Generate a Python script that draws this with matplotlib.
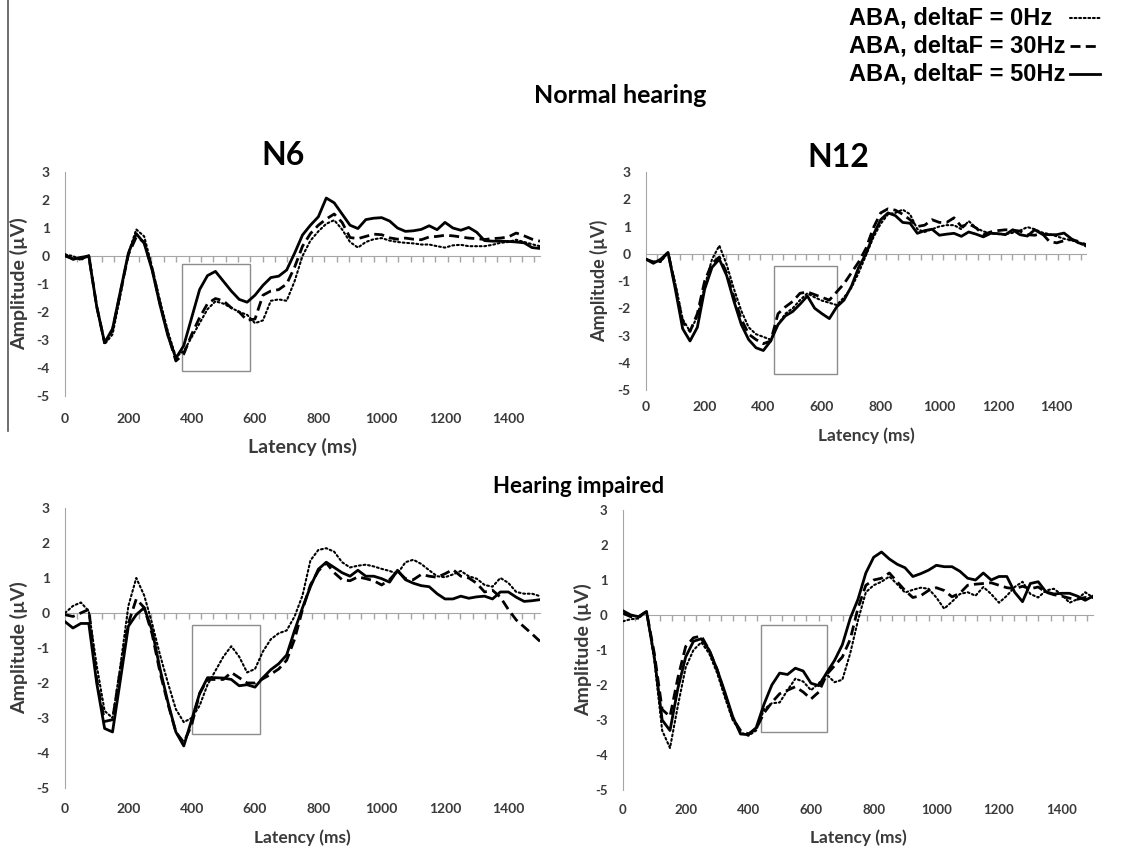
import matplotlib
matplotlib.use("Agg")
import matplotlib.pyplot as plt
from matplotlib.patches import Rectangle
from matplotlib.lines import Line2D
import numpy as np

plt.rcParams["axes.unicode_minus"] = False

# sampling grid of the read-off curves (ms)
latency_ms = np.arange(0, 1501, 25)

# ── Normal hearing, N6 ───────────────────────────────────────────────────────
nh_n6_0hz = [0.05, 0.0, -0.15, 0.05, -1.8, -3.15, -2.8, -1.4, 0.1, 0.95, 0.7, -0.4, -1.6,
             -2.7, -3.6, -3.4, -2.9, -2.4, -1.9, -1.62, -1.7, -1.85, -2.0, -2.1, -2.4, -2.3,
             -1.6, -1.55, -1.6, -0.9, 0.0, 0.55, 0.88, 1.15, 1.28, 0.95, 0.5, 0.3, 0.5, 0.6,
             0.64, 0.55, 0.5, 0.47, 0.45, 0.41, 0.41, 0.35, 0.3, 0.38, 0.4, 0.35, 0.35, 0.35,
             0.4, 0.47, 0.5, 0.58, 0.5, 0.42, 0.35]
nh_n6_30hz = [0.0, -0.1, -0.1, 0.0, -1.8, -3.1, -2.65, -1.3, 0.05, 0.68, 0.5, -0.45, -1.7,
              -2.8, -3.75, -3.5, -2.8, -2.2, -1.7, -1.52, -1.6, -1.85, -2.0, -2.3, -2.25, -1.4,
              -1.25, -1.2, -1.0, -0.4, 0.35, 0.8, 1.1, 1.32, 1.5, 1.2, 0.66, 0.62, 0.7, 0.78,
              0.76, 0.65, 0.6, 0.64, 0.6, 0.58, 0.68, 0.7, 0.74, 0.72, 0.68, 0.64, 0.62, 0.59,
              0.62, 0.64, 0.68, 0.82, 0.72, 0.6, 0.53]
nh_n6_50hz = [0.05, -0.12, -0.05, 0.0, -1.8, -3.1, -2.6, -1.25, 0.1, 0.8, 0.45, -0.5, -1.75,
              -2.85, -3.65, -3.2, -2.2, -1.2, -0.7, -0.55, -0.9, -1.25, -1.55, -1.65, -1.4, -1.05,
              -0.77, -0.72, -0.5, 0.1, 0.75, 1.1, 1.4, 2.07, 1.9, 1.5, 1.1, 0.98, 1.3, 1.35,
              1.37, 1.25, 1.0, 0.88, 0.9, 0.95, 1.08, 0.94, 1.2, 1.0, 0.92, 1.02, 0.85, 0.55,
              0.53, 0.53, 0.52, 0.5, 0.47, 0.3, 0.27]

# ── Normal hearing, N12 ──────────────────────────────────────────────────────
nh_n12_0hz = [-0.2, -0.3, -0.3, 0.05, -1.1, -2.4, -2.85, -2.3, -1.2, -0.2, 0.3, -0.4, -1.3,
              -2.1, -2.7, -2.95, -3.05, -3.15, -2.6, -2.2, -2.0, -1.7, -1.45, -1.6, -1.72, -1.8,
              -1.88, -1.6, -1.25, -0.7, -0.05, 0.6, 1.1, 1.45, 1.5, 1.62, 1.45, 0.9, 0.8, 0.9,
              1.0, 1.05, 1.05, 0.9, 1.2, 0.95, 0.82, 0.75, 0.72, 0.72, 0.77, 0.85, 0.98, 0.9,
              0.78, 0.72, 0.64, 0.55, 0.5, 0.4, 0.27]
nh_n12_30hz = [-0.2, -0.3, -0.25, 0.05, -1.2, -2.5, -2.85, -2.2, -1.0, -0.35, -0.12, -0.7,
               -1.6, -2.4, -2.95, -3.15, -3.3, -3.2, -2.2, -1.95, -1.75, -1.45, -1.4, -1.5, -1.6,
               -1.7, -1.4, -1.1, -0.7, -0.3, 0.2, 0.95, 1.5, 1.65, 1.6, 1.45, 1.25, 1.0, 1.05,
               1.25, 1.15, 1.15, 1.32, 1.0, 1.1, 0.95, 0.7, 0.8, 0.85, 0.88, 0.87, 0.83, 0.7,
               0.68, 0.75, 0.45, 0.4, 0.48, 0.52, 0.45, 0.33]
nh_n12_50hz = [-0.2, -0.35, -0.2, 0.05, -1.3, -2.75, -3.2, -2.7, -1.3, -0.5, -0.2, -0.8,
               -1.75, -2.6, -3.15, -3.45, -3.55, -3.2, -2.6, -2.28, -2.12, -1.85, -1.55, -2.0,
               -2.2, -2.38, -1.95, -1.7, -1.2, -0.5, 0.0, 0.7, 1.25, 1.5, 1.4, 1.15, 1.12, 0.75,
               0.85, 0.9, 0.68, 0.72, 0.75, 0.64, 0.8, 0.72, 0.62, 0.75, 0.74, 0.7, 0.88, 0.7,
               0.65, 0.88, 0.72, 0.7, 0.7, 0.76, 0.55, 0.4, 0.33]

# ── Hearing impaired, N6 ─────────────────────────────────────────────────────
hi_n6_0hz = [0.0, 0.2, 0.3, 0.05, -1.5, -2.8, -3.0, -1.5, 0.2, 1.0, 0.5, -0.3, -1.2, -2.0,
             -2.75, -3.12, -3.0, -2.65, -2.05, -1.65, -1.25, -0.95, -1.25, -1.7, -1.6, -1.1,
             -0.75, -0.58, -0.5, -0.1, 0.5, 1.5, 1.8, 1.85, 1.75, 1.45, 1.3, 1.35, 1.38, 1.33,
             1.26, 1.2, 1.12, 1.45, 1.52, 1.4, 1.22, 1.05, 1.02, 1.1, 1.2, 1.05, 0.98, 0.8,
             0.75, 1.0, 0.86, 0.6, 0.55, 0.55, 0.48]
hi_n6_30hz = [-0.05, -0.1, 0.0, 0.1, -1.9, -3.1, -3.05, -1.6, -0.3, 0.4, 0.15, -0.6, -1.7,
              -2.6, -3.4, -3.7, -3.2, -2.3, -1.9, -1.9, -1.9, -1.7, -1.85, -2.0, -2.0, -1.88,
              -1.75, -1.6, -1.35, -0.75, 0.1, 0.8, 1.2, 1.43, 1.15, 0.95, 0.92, 1.03, 0.98, 0.92,
              0.8, 0.95, 1.2, 0.98, 0.95, 1.1, 1.05, 1.02, 1.12, 1.24, 1.05, 1.0, 0.85, 0.6,
              0.65, 0.45, 0.1, -0.2, -0.4, -0.6, -0.81]
hi_n6_50hz = [-0.25, -0.43, -0.3, -0.3, -2.0, -3.3, -3.4, -1.9, -0.38, -0.05, 0.15, -0.5,
              -1.6, -2.55, -3.4, -3.8, -3.05, -2.3, -1.85, -1.85, -1.86, -1.9, -2.08, -2.05,
              -2.12, -1.85, -1.62, -1.45, -1.2, -0.5, 0.15, 0.75, 1.25, 1.45, 1.3, 1.15, 1.05,
              1.22, 1.05, 1.05, 0.98, 0.88, 1.22, 0.95, 0.85, 0.78, 0.75, 0.55, 0.4, 0.4, 0.48,
              0.42, 0.46, 0.48, 0.4, 0.6, 0.6, 0.45, 0.33, 0.35, 0.38]

# ── Hearing impaired, N12 ────────────────────────────────────────────────────
hi_n12_0hz = [-0.18, -0.12, -0.1, 0.12, -1.3, -3.3, -3.8, -2.6, -1.5, -1.0, -0.78, -1.1,
              -1.65, -2.35, -3.0, -3.35, -3.45, -3.3, -2.7, -2.52, -2.5, -2.15, -1.82, -1.9,
              -2.15, -1.95, -1.7, -1.92, -1.85, -1.1, -0.15, 0.65, 0.85, 0.95, 1.1, 0.88, 0.64,
              0.72, 0.78, 0.75, 0.5, 0.18, 0.38, 0.6, 0.65, 0.55, 0.8, 0.6, 0.35, 0.55, 0.8,
              0.95, 0.6, 0.5, 0.7, 0.75, 0.58, 0.35, 0.45, 0.65, 0.5]
hi_n12_30hz = [0.05, -0.05, -0.05, 0.1, -1.1, -2.7, -2.9, -1.8, -0.9, -0.65, -0.6, -1.0,
               -1.55, -2.25, -2.95, -3.3, -3.4, -3.25, -2.8, -2.5, -2.25, -2.15, -2.05, -2.2,
               -2.4, -2.2, -1.7, -1.45, -1.2, -0.7, 0.2, 0.85, 1.0, 1.05, 1.2, 0.95, 0.7, 0.5,
               0.55, 0.7, 0.78, 0.7, 0.52, 0.62, 0.85, 0.88, 0.9, 0.92, 0.85, 0.78, 0.75, 0.82,
               0.75, 0.8, 0.65, 0.58, 0.54, 0.48, 0.45, 0.5, 0.5]
hi_n12_50hz = [0.12, 0.0, -0.05, 0.1, -1.2, -3.0, -3.3, -2.1, -1.2, -0.75, -0.68, -1.0,
               -1.55, -2.2, -2.9, -3.4, -3.42, -3.22, -2.55, -2.0, -1.66, -1.7, -1.52, -1.6,
               -1.95, -2.02, -1.65, -1.3, -0.85, -0.1, 0.45, 1.2, 1.65, 1.8, 1.6, 1.45, 1.35,
               1.1, 1.18, 1.28, 1.42, 1.38, 1.38, 1.25, 1.05, 1.0, 1.2, 1.0, 1.1, 1.1, 0.65,
               0.38, 0.9, 0.95, 0.66, 0.6, 0.62, 0.62, 0.54, 0.42, 0.54]

# analysis windows: (start ms, end ms, low µV, high µV)
nh_n6_window = (370, 585, -4.1, -0.3)
nh_n12_window = (436, 650, -4.4, -0.45)
hi_n6_window = (401, 615, -3.45, -0.35)
hi_n12_window = (440, 650, -3.35, -0.3)

conditions = ["ABA, deltaF = 0Hz", "ABA, deltaF = 30Hz", "ABA, deltaF = 50Hz"]
line_styles = [
    dict(linestyle=(0, (0.9, 1.3)), linewidth=1.5, dash_capstyle="round"),
    dict(linestyle=(0, (3.6, 1.9)), linewidth=2.0),
    dict(linestyle="-", linewidth=2.0),
]

GRAY = "#a6a6a6"
TXT = "#3a3a3a"
FONT = "Lato"


def draw_panel(ax, curves, window, tick_size=10, xpad=12, ylab_x=-0.08,
               xlab_y=-0.2, xlab_size=13, ylab_size=14):
    for y, st in zip(curves, line_styles):
        ax.plot(latency_ms, y, color="black", zorder=3, **st)

    x0, x1, lo, hi = window
    ax.add_patch(Rectangle((x0, lo), x1 - x0, hi - lo, fill=False,
                           edgecolor="#8c8c8c", linewidth=1.0, zorder=2))

    ax.set_xlim(0, 1500)
    ax.set_ylim(-5, 3)
    for s in ("top", "right"):
        ax.spines[s].set_visible(False)
    ax.spines["left"].set_color(GRAY)
    ax.spines["bottom"].set_color(GRAY)
    ax.spines["bottom"].set_position(("data", 0))

    # small tick marks sitting on the zero line
    ax.set_xticks(np.arange(39, 1500, 39))
    ax.set_xticklabels([])
    ax.tick_params(axis="x", direction="out", length=4, color=GRAY, width=1)

    ax.set_yticks(range(-5, 4))
    ax.tick_params(axis="y", length=0, pad=11, labelsize=tick_size, labelcolor=TXT)
    for lab in ax.get_yticklabels():
        lab.set_fontfamily(FONT)
        lab.set_fontweight("bold")

    # latency labels at the bottom of the panel
    sec = ax.secondary_xaxis("bottom")
    sec.set_xticks(range(0, 1401, 200))
    sec.spines["bottom"].set_visible(False)
    sec.tick_params(length=0, pad=xpad, labelsize=tick_size, labelcolor=TXT)
    for lab in sec.get_xticklabels():
        lab.set_fontfamily(FONT)
        lab.set_fontweight("bold")

    ax.set_ylabel("Amplitude (µV)", fontsize=ylab_size, fontweight="bold",
                  fontfamily=FONT, color=TXT)
    ax.yaxis.set_label_coords(ylab_x, 0.5)
    ax.text(0.5, xlab_y, "Latency (ms)", transform=ax.transAxes, ha="center",
            va="center", fontsize=xlab_size, fontweight="bold", fontfamily=FONT,
            color=TXT)


fig = plt.figure(figsize=(11.45, 8.49), dpi=100)

ax_tl = fig.add_axes([0.0568, 0.5336, 0.4148, 0.2638])
ax_tr = fig.add_axes([0.5642, 0.5406, 0.3843, 0.2568])
ax_bl = fig.add_axes([0.0568, 0.0719, 0.4148, 0.3298])
ax_br = fig.add_axes([0.5441, 0.0695, 0.4105, 0.3298])

draw_panel(ax_tl, [nh_n6_0hz, nh_n6_30hz, nh_n6_50hz], nh_n6_window,
           tick_size=10, xpad=12, ylab_x=-0.078, xlab_y=-0.228,
           xlab_size=14, ylab_size=14)
draw_panel(ax_tr, [nh_n12_0hz, nh_n12_30hz, nh_n12_50hz], nh_n12_window,
           tick_size=10, xpad=8, ylab_x=-0.086, xlab_y=-0.211,
           xlab_size=12.5, ylab_size=13)
draw_panel(ax_bl, [hi_n6_0hz, hi_n6_30hz, hi_n6_50hz], hi_n6_window,
           tick_size=10, xpad=11, ylab_x=-0.078, xlab_y=-0.179,
           xlab_size=12.5, ylab_size=14)
draw_panel(ax_br, [hi_n12_0hz, hi_n12_30hz, hi_n12_50hz], hi_n12_window,
           tick_size=9.5, xpad=10, ylab_x=-0.066, xlab_y=-0.171,
           xlab_size=12.5, ylab_size=14)

fig.text(0.5415, 0.888, "Normal hearing", ha="center", va="center",
         fontsize=18, fontweight="bold", fontfamily=FONT)
fig.text(0.247, 0.8174, "N6", ha="center", va="center",
         fontsize=23, fontweight="bold", fontfamily=FONT)
fig.text(0.732, 0.814, "N12", ha="center", va="center",
         fontsize=23, fontweight="bold", fontfamily=FONT)
fig.text(0.505, 0.4264, "Hearing impaired", ha="center", va="center",
         fontsize=16, fontweight="bold", fontfamily=FONT)

# legend: left-aligned labels with a short line sample on the right
legend_rows_y = [0.9788, 0.9458, 0.9128]
for label, st, ly in zip(conditions, line_styles, legend_rows_y):
    fig.text(0.7415, ly, label, ha="left", va="center", fontsize=17,
             fontweight="bold", fontfamily="Liberation Sans")
    fig.add_artist(Line2D([0.9345, 0.9607], [ly, ly], color="black", **st))

# thin border line on the far left of the figure
fig.add_artist(Line2D([0.007, 0.007], [0.492, 1.0], color="#555555", linewidth=1.2))

fig.savefig("out.png", dpi=100)
